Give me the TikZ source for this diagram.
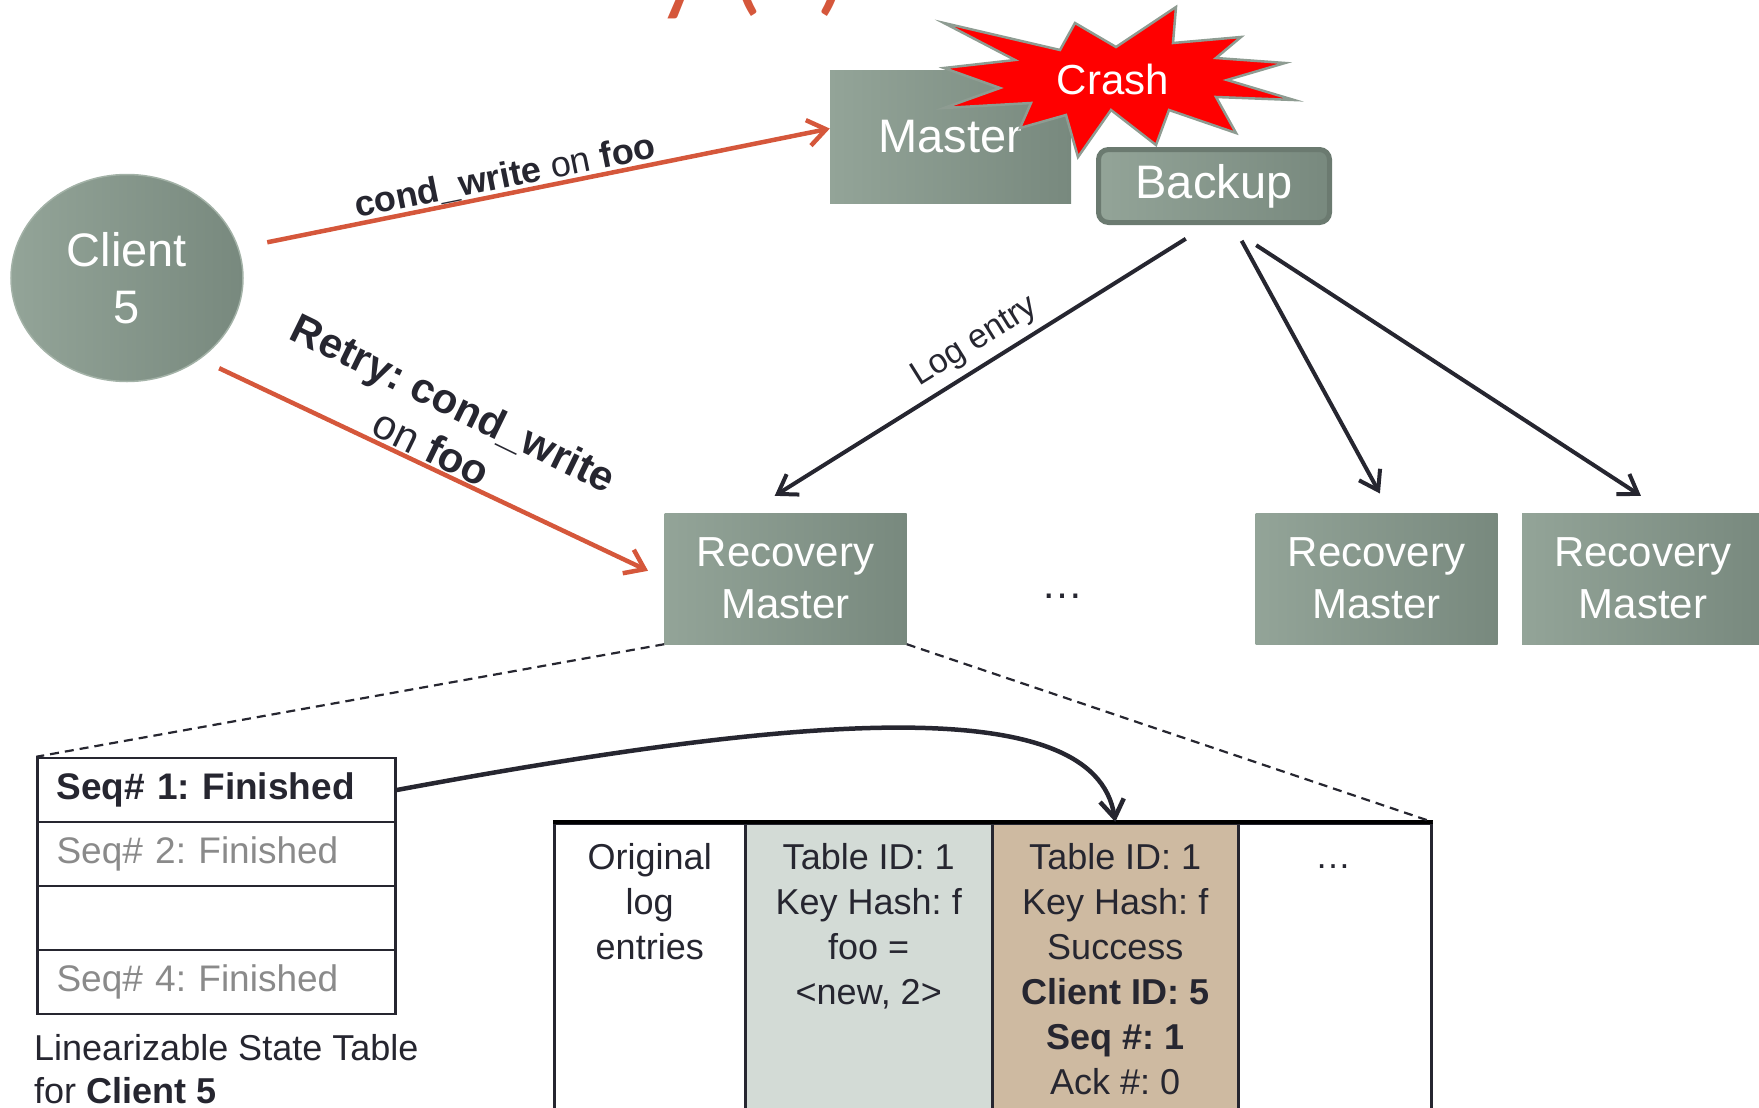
\documentclass[tikz,border=0pt]{standalone}
\usepackage{fontspec}
\setmainfont{Liberation Sans}
\newfontfamily\titlefont{Carlito}
\usetikzlibrary{shapes.geometric,arrows.meta,calc}

\definecolor{boxL}{HTML}{93A498}
\definecolor{boxR}{HTML}{78897E}
\definecolor{boxEdge}{HTML}{6B7A70}
\definecolor{clientEdge}{HTML}{A3B2A7}
\definecolor{ink}{HTML}{262630}
\definecolor{callred}{HTML}{D5573B}
\definecolor{fadetext}{HTML}{8A8A8A}
\definecolor{keepcol}{HTML}{D3DBD6}
\definecolor{entrycol}{HTML}{CEBAA1}
\definecolor{starred}{HTML}{FF0000}
\definecolor{staredge}{HTML}{8E9C92}

\newcommand\fsz[2]{\fontsize{#1}{#2}\selectfont}
\frenchspacing

\begin{document}
\begin{tikzpicture}[x=1pt,y=-1pt,
  greenbox/.style={rectangle, left color=boxL, right color=boxR, text=white,
    inner sep=0pt, align=center},
  rmbox/.style={greenbox, minimum width=242pt, minimum height=131pt,
    font=\fsz{42}{52}},
  redarrow/.style={draw=callred, line width=4.5pt,
    -{Straight Barb[length=18pt,width=26pt]}},
  inkarrow/.style={draw=ink, line width=4pt,
    -{Straight Barb[length=18pt,width=24pt]}},
  dashline/.style={draw=ink, line width=2.2pt, dash pattern=on 9pt off 6pt},
  staterow/.style={rectangle, draw=ink, line width=2.5pt, minimum height=64pt,
    text width=320pt, inner xsep=19pt, inner ysep=0pt, align=left,
    font=\fsz{37}{44}},
  logcol/.style={rectangle, draw=ink, line width=2.5pt, inner sep=0pt},
  celltext/.style={anchor=north, align=center, inner sep=0pt, text=ink,
    font=\fsz{36}{45}},
  edgelabel/.style={text=ink, inner sep=0pt, align=center}
]
\useasboundingbox (0,0) rectangle (1759,1108);
\clip (0,0) rectangle (1759,1108);

% heading, only its lowest strokes fall inside the frame
\node[anchor=base west, inner sep=0pt, text=callred, font=\titlefont\fsz{108}{108}]
  (heading) at (656,2) {y (\hphantom{2})};

% crashed master and its backup
\node[greenbox, minimum width=241pt, minimum height=132pt, font=\fsz{47}{56}]
  (master) at (950.5,137) {Master};
\filldraw[fill=starred, draw=staredge, line width=2.5pt, line join=miter]
  (944,23) -- (1060,50) -- (1075,23) -- (1116,47) -- (1176,7) -- (1173,43)
  -- (1241,37) -- (1216,58) -- (1285,63) -- (1227,80) -- (1294,100)
  -- (1216,97) -- (1236,133) -- (1169,110) -- (1156,145) -- (1111,110)
  -- (1078,157) -- (1066,115) -- (1020,128) -- (1031,103) -- (944,108)
  -- (1000,88) -- (944,68) -- (1015,60) -- cycle;
\node[text=white, inner sep=0pt, font=\fsz{42}{50}] (crash) at (1113,79) {Crash};
\node[greenbox, rounded corners=10pt, draw=boxEdge, line width=5pt,
  minimum width=231pt, minimum height=73pt, font=\fsz{47}{56}]
  (backup) at (1214,186) {Backup};

% client
\node[ellipse, minimum width=232pt, minimum height=207pt, left color=boxL,
  right color=boxR, draw=clientEdge, line width=1.5pt, text=white,
  font=\fsz{47}{57}, align=center, inner sep=0pt]
  (client) at (127,278) {Client\\5};

% recovery masters
\node[rmbox] (rm1) at (785.5,578.5) {Recovery\\Master};
\node[rmbox] (rm2) at (1376.5,578.5) {Recovery\\Master};
\node[rmbox] (rm3) at (1643,578.5) {Recovery\\Master};
\node[anchor=base, inner sep=0pt, text=ink, font=\fsz{42}{50}] (gap) at (1062,598) {…};

% requests from the client
\draw[redarrow, shorten <=29pt] (client.15) -- (master.176);
\draw[redarrow, shorten <=21pt, shorten >=18pt] (client.-48) -- (rm1.180);
\node[edgelabel, rotate=11.4, font=\fsz{36}{44}] (firstcall) at (505,177)
  {\textbf{cond\_write} on \textbf{foo}};
\node[edgelabel, rotate=-26, font=\fsz{42}{50}] (retrycall) at (443,425)
  {\textbf{Retry: cond\_write}\\on \textbf{foo}};

% log replay from the backup
\draw[inkarrow, shorten <=26pt, shorten >=32pt] (backup.261) -- (rm1.120);
\draw[inkarrow, shorten <=18pt, shorten >=22pt] (backup.-64) -- (rm2.78);
\draw[inkarrow, shorten <=37pt, shorten >=31pt] (backup.-74) -- (rm3.70);
\node[edgelabel, rotate=32, font=\fsz{34}{40}] (loglabel) at (975,342) {Log entry};

% linearizable state table
\node[staterow, text=ink] (r1) at (216.5,790) {\textbf{Seq\# 1: Finished}};
\node[staterow, text=fadetext] (r2) at (216.5,854) {Seq\# 2: Finished};
\node[staterow] (r3) at (216.5,918) {\strut};
\node[staterow, text=fadetext] (r4) at (216.5,982) {Seq\# 4: Finished};
\node[anchor=base west, inner sep=0pt, text=ink, align=left, font=\fsz{36}{43}]
  (caption) at (34,1103) {Linearizable State Table\\for \textbf{Client 5}};

% recovered log
\node[logcol, minimum width=191pt, minimum height=320pt, anchor=north west]
  (c1) at (553,822) {};
\node[logcol, fill=keepcol, minimum width=247pt, minimum height=320pt, anchor=north west]
  (c2) at (744,822) {};
\node[logcol, fill=entrycol, minimum width=246pt, minimum height=320pt, anchor=north west]
  (c3) at (991,822) {};
\node[logcol, minimum width=193pt, minimum height=320pt, anchor=north west]
  (c4) at (1237,822) {};
\draw[draw=black, line width=3.5pt] (c1.north west) -- (c4.north east);
\node[celltext] (t1) at ($(c1.north)+(0,21)$) {Original\\log\\entries};
\node[celltext] (t2) at ($(c2.north)+(0,21)$) {Table ID: 1\\Key Hash: f\\foo =\\<new, 2>};
\node[celltext] (t3) at ($(c3.north)+(0,21)$)
  {Table ID: 1\\Key Hash: f\\Success\\\textbf{Client ID: 5}\\\textbf{Seq \#: 1}\\Ack \#: 0};
\node[anchor=base, inner sep=0pt, text=ink, font=\fsz{36}{45}] (t4) at (1333,868) {…};

% zoom-in guides and the record link
\draw[dashline] (rm1.south west) -- (r1.north west);
\draw[dashline] (rm1.south east) -- (c4.north east);
\draw[inkarrow, line width=4.5pt] (r1.east) .. controls (800,715) and (1095,690) .. (c3.north);
\end{tikzpicture}
\end{document}
